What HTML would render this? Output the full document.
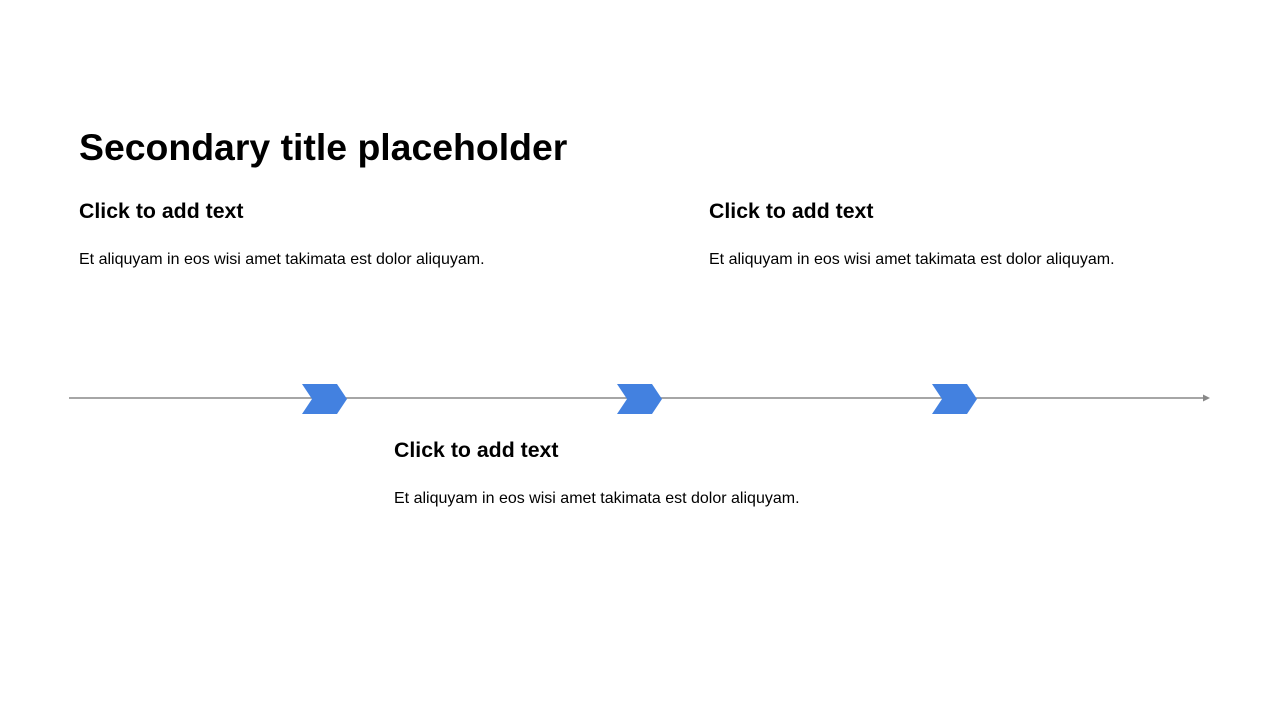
<!DOCTYPE html>
<html><head><style>
body{margin:0;width:1280px;height:720px;background:#fff;position:relative;overflow:hidden;font-family:"Liberation Sans",Arial,sans-serif;color:#000}
.t{position:absolute;white-space:nowrap}
h1{position:absolute;left:79px;top:125px;margin:0;font-size:37.4px;font-weight:bold;line-height:44px}
.h{font-size:21.3px;font-weight:bold;line-height:24px}
.p{font-size:16px;line-height:20px}
</style></head><body>
<h1>Secondary title placeholder</h1>
<div class="t h" style="left:79px;top:199px">Click to add text</div>
<div class="t p" style="left:79px;top:250px">Et aliquyam in eos wisi amet takimata est dolor aliquyam.</div>
<div class="t h" style="left:709px;top:199px">Click to add text</div>
<div class="t p" style="left:709px;top:250px">Et aliquyam in eos wisi amet takimata est dolor aliquyam.</div>
<div class="t h" style="left:394px;top:438px">Click to add text</div>
<div class="t p" style="left:394px;top:489px">Et aliquyam in eos wisi amet takimata est dolor aliquyam.</div>
<svg width="1280" height="720" style="position:absolute;left:0;top:0">
<line x1="69" y1="398" x2="1204" y2="398" stroke="#888" stroke-width="1.5"/>
<polygon points="1203,394.5 1210,398 1203,401.5" fill="#888"/>
<g fill="#4381E0">
<polygon points="302,384 337,384 347,399 337,414 302,414 312,399"/>
<polygon points="617,384 652,384 662,399 652,414 617,414 627,399"/>
<polygon points="932,384 967,384 977,399 967,414 932,414 942,399"/>
</g>
</svg>
</body></html>
